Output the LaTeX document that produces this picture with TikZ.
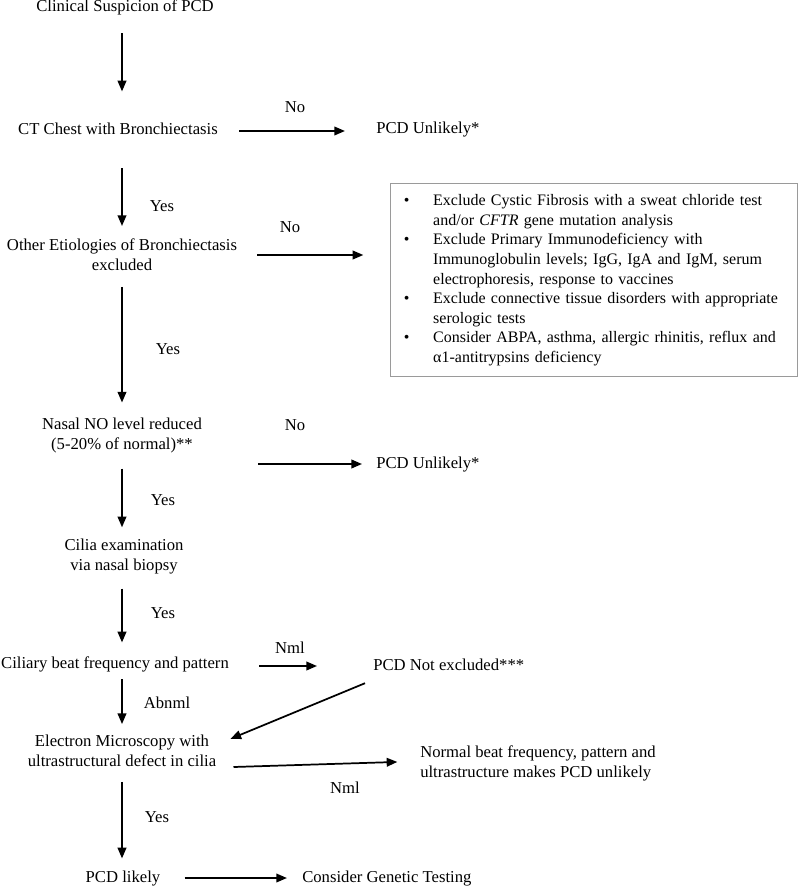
\documentclass[tikz,border=0pt]{standalone}
\usepackage{fontspec}
\setmainfont{Liberation Serif}
\usepackage{xcolor}
\usetikzlibrary{arrows.meta,positioning,calc}
\definecolor{boxgray}{HTML}{9A9A9A}

\tikzset{
  flow/.style={font=\fontsize{12.5}{15}\selectfont,inner sep=0pt,text height=8.7pt,text depth=2.7pt},
  flowtwo/.style={font=\fontsize{12.5}{15}\selectfont,inner sep=0pt,align=center},
  lbl/.style={font=\fontsize{12.5}{15}\selectfont,inner sep=0pt,anchor=base},
  arr/.style={-{Triangle[length=8pt,width=6.5pt]},line width=1.3pt},
}

\begin{document}
\begin{tikzpicture}[x=0.75pt,y=-0.75pt]
  \useasboundingbox (0,0) rectangle (800,887);
  % main column
  \node[flow,anchor=base] (clin) at (125,12) {Clinical Suspicion of PCD};
  \node[flow,anchor=base] (ct) at (118,135) {CT Chest with Bronchiectasis};
  \node[flowtwo] (oth) at (122,255) {Other Etiologies of Bronchiectasis\\excluded};
  \node[flowtwo] (nasal) at (122,435) {Nasal NO level reduced\\(5-20\% of normal)**};
  \node[flowtwo] (cilia) at (124,557) {Cilia examination\\via nasal biopsy};
  \node[flow,anchor=base] (cbf) at (115,668) {Ciliary beat frequency and pattern};
  \node[flowtwo] (em) at (122,751) {Electron Microscopy with\\ultrastructural defect in cilia};
  \node[flow,anchor=base] (likely) at (123,882) {PCD likely};
  % outcomes on the right
  \node[flow,anchor=base west] (unl1) at (376,134) {PCD Unlikely*};
  \node[flow,anchor=base west] (unl2) at (376,468) {PCD Unlikely*};
  \node[flow,anchor=base west] (notex) at (373,670) {PCD Not excluded***};
  \node[flowtwo,align=left,anchor=west] (normal) at (420,763) {Normal beat frequency, pattern and\\ultrastructure makes PCD unlikely};
  \node[flow,anchor=base west] (genet) at (302,882) {Consider Genetic Testing};
  % other etiologies box
  \node[anchor=north west,draw=boxgray,line width=0.8pt,inner xsep=10pt,inner ysep=6.3pt,
        font=\fontsize{12}{14.7}\selectfont,text width=285pt] (excl) at (390,183) {\noindent
    \begin{tabular}{@{}p{22pt}@{}l@{}}
      \textbullet & Exclude Cystic Fibrosis with a sweat chloride test\\
       & and/or \textit{CFTR} gene mutation analysis\\
      \textbullet & Exclude Primary Immunodeficiency with\\
       & Immunoglobulin levels; IgG, IgA and IgM, serum\\
       & electrophoresis, response to vaccines\\
      \textbullet & Exclude connective tissue disorders with appropriate\\
       & serologic tests\\
      \textbullet & Consider ABPA, asthma, allergic rhinitis, reflux and\\
       & α1-antitrypsins deficiency
    \end{tabular}};
  % branch labels
  \node[lbl] (no1) at (295,113) {No};
  \node[lbl] (yes1) at (162,212) {Yes};
  \node[lbl] (no2) at (290,233) {No};
  \node[lbl] (yes2) at (168,354) {Yes};
  \node[lbl] (no3) at (295,430) {No};
  \node[lbl] (yes3) at (163,505) {Yes};
  \node[lbl] (yes4) at (163,618) {Yes};
  \node[lbl] (nml1) at (290,653) {Nml};
  \node[lbl] (abn) at (167,708) {Abnml};
  \node[lbl] (nml2) at (345,793) {Nml};
  \node[lbl] (yes5) at (157,822) {Yes};
  % arrows
  \draw[arr,shorten <=13pt,shorten >=23.8pt] (clin.south -| oth) -- (ct.north -| oth);
  \draw[arr,shorten <=15.8pt,shorten >=23.3pt] (ct.east) -- (ct.east -| unl1.west);
  \draw[arr,shorten <=22pt,shorten >=9.6pt] (ct.south -| oth) -- (oth.north);
  \draw[arr,shorten <=15pt,shorten >=20pt] (oth.east) -- (oth.east -| excl.west);
  \draw[arr,shorten <=11.8pt,shorten >=11pt] (oth.south) -- (nasal.north);
  \draw[arr,shorten <=42pt,shorten >=10.5pt] (nasal.east |- unl2.west) -- (unl2.west);
  \draw[arr,shorten <=11.8pt,shorten >=8.9pt] (nasal.south) -- (cilia.north -| nasal.south);
  \draw[arr,shorten <=10.4pt,shorten >=10.3pt] (cilia.south -| oth) -- (cbf.north -| oth);
  \draw[arr,shorten <=22.5pt,shorten >=42pt] (cbf.east |- notex.west) -- (notex.west);
  \draw[arr,shorten <=5.6pt,shorten >=8.1pt] (cbf.south -| em) -- (em.north);
  \draw[arr] ([xshift=-6pt,yshift=-7pt]notex.south west) -- ([xshift=10.5pt,yshift=-3pt]em.north east);
  \draw[arr] ([xshift=12.8pt,yshift=-12pt]em.east) -- ([xshift=-17pt,yshift=0.8pt]normal.west);
  \draw[arr,shorten <=11.1pt,shorten >=8.8pt] (em.south) -- (likely.north -| em);
  \draw[arr,shorten <=18pt,shorten >=11.3pt] (likely.east) -- (genet.west);
\end{tikzpicture}
\end{document}
